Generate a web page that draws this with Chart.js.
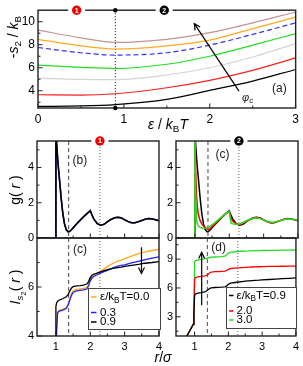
<!DOCTYPE html>
<html>
<head>
<meta charset="utf-8">
<script src="https://cdn.jsdelivr.net/npm/chart.js@4.4.1/dist/chart.umd.min.js"></script>
<style>
  body { margin: 0; background: #fff; }
  #fig { position: relative; width: 303px; height: 366px; overflow: hidden;
         font-family: "Liberation Sans", Arial, sans-serif; color: #000; }
  #fig canvas { position: absolute; left: 0; top: 0; pointer-events: none; }
  .ttl { position: absolute; white-space: nowrap; font-size: 14px; transform: translate(-50%, -50%); }
  .rot { transform: translate(-50%, -50%) rotate(-90deg); }
  .ttl sub { font-size: 70%; vertical-align: baseline; position: relative; top: 0.35em; }
  .ttl sub sub { font-size: 80%; }
</style>
</head>
<body>
<div id="fig">
  <canvas id="chartA" width="303" height="366"></canvas>
  <canvas id="chartB" width="303" height="366"></canvas>
  <canvas id="chartC" width="303" height="366"></canvas>
  <canvas id="chartC2" width="303" height="366"></canvas>
  <canvas id="chartD" width="303" height="366"></canvas>

  <div class="ttl rot" style="left:13px; top:37px;">-<i>s</i><sub>2</sub> / <i>k</i><sub>B</sub></div>
  <div class="ttl" style="left:168px; top:124px;"><i>ε</i> / <i>k</i><sub>B</sub><i>T</i></div>
  <div class="ttl rot" style="left:15px; top:190px;">g( <i>r</i> )</div>
  <div class="ttl rot" style="left:15px; top:287px;"><i>I</i><sub><i>s</i><sub>2</sub></sub>( <i>r</i> )</div>
  <div class="ttl" style="left:163px; top:357px;"><i>r</i>/<i>σ</i></div>
</div>

<script>
Chart.defaults.font.family = '"Liberation Sans", Arial, sans-serif';
Chart.defaults.color = '#000';

const FONT = '"Liberation Sans", Arial, sans-serif';
const W = 303, H = 366;

// ---------- panel (a): -s2/kB against eps/kBT, one curve per packing fraction
const epsA = [0, 0.5, 0.9, 1.5, 2, 2.5, 3];
const s2Black  = [2.64, 2.68, 2.80, 3.25, 4.03, 4.84, 5.85];
const s2Red    = [3.65, 3.62, 3.74, 4.26, 4.90, 5.77, 6.85];
const s2Gray   = [5.10, 4.98, 4.96, 5.37, 6.00, 6.93, 8.10];
const s2Green  = [6.22, 6.03, 5.93, 6.30, 7.00, 7.97, 8.96];
const s2Blue   = [7.76, 7.30, 7.10, 7.30, 7.97, 8.90, 9.90];
const s2Orange = [8.47, 7.90, 7.62, 7.90, 8.40, 9.40, 10.40];
const s2Brown  = [9.27, 8.60, 8.20, 8.47, 9.05, 9.90, 10.84];

// ---------- g(r) panels
const rG = [0.45, 0.995, 1.0, 1.02, 1.05, 1.08, 1.1, 1.15, 1.2, 1.25, 1.3, 1.35, 1.4, 1.45, 1.5,
            1.6, 1.7, 1.8, 1.9, 2.0, 2.05, 2.1, 2.2, 2.3, 2.4, 2.5, 2.6, 2.7, 2.8, 2.9, 3.0,
            3.1, 3.2, 3.3, 3.4, 3.5, 3.6, 3.7, 3.8, 3.9, 4.0];
const gEps00 = [0, 0, 6.5, 5.5, 4.6, 3.9, 3.45, 2.35, 1.45, 0.82, 0.5, 0.37, 0.37, 0.46, 0.57,
                0.79, 0.99, 1.19, 1.37, 1.54, 1.3, 1.09, 0.83, 0.72, 0.77, 0.92, 1.04, 1.14, 1.18, 1.15, 1.04,
                0.94, 0.87, 0.86, 0.92, 0.99, 1.06, 1.1, 1.08, 1.03, 0.98];
const gEps03 = [0, 0, 6.5, 5.45, 4.55, 3.85, 3.42, 2.32, 1.42, 0.8, 0.49, 0.36, 0.37, 0.46, 0.57,
                0.79, 0.99, 1.19, 1.37, 1.55, 1.3, 1.08, 0.83, 0.72, 0.77, 0.92, 1.04, 1.14, 1.18, 1.15, 1.04,
                0.94, 0.87, 0.86, 0.92, 0.99, 1.06, 1.1, 1.08, 1.03, 0.98];
const gEps09 = [0, 0, 6.5, 5.4, 4.5, 3.8, 3.4, 2.3, 1.4, 0.8, 0.48, 0.36, 0.38, 0.47, 0.58,
                0.8, 1.0, 1.2, 1.38, 1.55, 1.3, 1.08, 0.82, 0.72, 0.78, 0.93, 1.05, 1.15, 1.18, 1.14, 1.03,
                0.93, 0.87, 0.87, 0.93, 1.0, 1.07, 1.1, 1.08, 1.03, 0.98];
const gEps20 = [0, 0, 6.5, 4.0, 2.3, 1.6, 1.33, 1.0, 0.8, 0.68, 0.6, 0.52, 0.47, 0.55, 0.65,
                0.83, 1.02, 1.22, 1.38, 1.5, 1.15, 0.95, 0.8, 0.75, 0.82, 0.95, 1.05, 1.13, 1.16, 1.12, 1.02,
                0.93, 0.87, 0.88, 0.94, 1.0, 1.06, 1.09, 1.07, 1.03, 0.99];
const gEps30 = [0, 0, 6.5, 2.5, 1.0, 0.75, 0.68, 0.6, 0.57, 0.55, 0.55, 0.56, 0.6, 0.67, 0.75,
                0.9, 1.07, 1.23, 1.38, 1.5, 0.85, 0.8, 0.78, 0.8, 0.88, 0.98, 1.06, 1.12, 1.14, 1.1, 1.02,
                0.94, 0.89, 0.89, 0.94, 1.0, 1.05, 1.08, 1.07, 1.03, 1.0];

// ---------- I_s2(r) panels
const rI = [0.7, 0.77, 0.85, 0.92, 0.96, 0.98, 1.0, 1.02, 1.05, 1.1, 1.2, 1.3, 1.35, 1.4, 1.45, 1.5,
            1.6, 1.7, 1.8, 1.9, 1.95, 2.0, 2.05, 2.1, 2.2, 2.3, 2.4, 2.5, 2.6, 2.7, 2.8, 2.9,
            3.0, 3.2, 3.4, 3.6, 3.8, 4.0];
const iEps00 = [0.3, 0.9, 1.3, 1.7, 2.0, 2.2, 2.5, 4.3, 5.0, 5.06, 5.1, 5.15, 5.28, 5.5, 5.72, 5.85,
                5.9, 5.92, 5.94, 5.98, 6.1, 6.3, 6.42, 6.48, 6.56, 6.65, 6.74, 6.83, 6.92, 7.0, 7.06, 7.1,
                7.16, 7.26, 7.36, 7.43, 7.49, 7.53];
const iEps03 = [0.3, 0.9, 1.3, 1.7, 2.0, 2.2, 2.5, 4.2, 4.95, 5.02, 5.06, 5.12, 5.25, 5.45, 5.65, 5.78,
                5.84, 5.86, 5.88, 5.92, 6.05, 6.25, 6.37, 6.43, 6.5, 6.57, 6.63, 6.68, 6.74, 6.8, 6.85, 6.88,
                6.9, 6.98, 7.05, 7.12, 7.18, 7.23];
const iEps09 = [0.3, 1.0, 1.5, 1.95, 2.2, 3.5, 5.2, 5.35, 5.42, 5.47, 5.52, 5.6, 5.68, 5.82, 5.95, 6.02,
                6.05, 6.06, 6.08, 6.12, 6.22, 6.38, 6.48, 6.52, 6.57, 6.62, 6.67, 6.71, 6.74, 6.77, 6.79, 6.81,
                6.84, 6.88, 6.92, 6.97, 7.0, 7.04];
const iEps20 = [0.3, 1.0, 1.5, 1.95, 2.2, 2.6, 6.9, 7.05, 7.1, 7.15, 7.2, 7.25, 7.3, 7.4, 7.58, 7.66,
                7.7, 7.71, 7.73, 7.75, 7.82, 7.93, 8.0, 8.03, 8.06, 8.09, 8.12, 8.14, 8.16, 8.18, 8.2, 8.21,
                8.22, 8.24, 8.25, 8.26, 8.27, 8.28];
const iEps30 = [0.3, 1.0, 1.5, 1.95, 2.2, 2.8, 8.7, 8.82, 8.86, 8.9, 8.97, 9.03, 9.07, 9.12, 9.17, 9.2,
                9.22, 9.24, 9.27, 9.32, 9.45, 9.6, 9.7, 9.74, 9.77, 9.8, 9.82, 9.84, 9.85, 9.87, 9.88, 9.89,
                9.9, 9.91, 9.92, 9.93, 9.94, 9.95];

// ---------- axis ticks and legend texts
const epsTicks = [0, 1, 2, 3];
const epsMinor = [0.5, 1.5, 2.5];
const s2Ticks = [4, 6, 8, 10];
const s2Minor = [3, 5, 7, 9];
const rTicks = [1, 2, 3, 4];
const rMinor = [1.5, 2.5, 3.5];
const gTicks = [0, 2, 4];
const gMinor = [1, 3, 5];
const iTicksLeft = [4, 6];
const iMinorLeft = [5, 7];
const iTicksRight = [3, 6, 9];
const iMinorRight = [1.5, 4.5, 7.5, 10.5];
const legendLeft = ['0.0', '0.3', '0.9'];
const legendRight = ['0.9', '2.0', '3.0'];

const pts = (xs, ys) => xs.map((x, i) => ({ x: x, y: ys[i] }));

function line(xs, ys, color, extra) {
  return Object.assign({
    data: pts(xs, ys), borderColor: color, borderWidth: 1.3,
    pointRadius: 0, fill: false, tension: 0, clip: 0
  }, extra || {});
}

// text with subscripts: parts = [[text, style]], style '' | 'i' | 's' | 'si'
function rich(ctx, parts, x, y, size, align) {
  const items = parts.map(([t, st]) => ({
    t: t, st: st,
    f: (st.includes('i') ? 'italic ' : '') + (st.includes('s') ? size * 0.72 : size) + 'px ' + FONT
  }));
  let w = 0;
  items.forEach(p => { ctx.font = p.f; p.w = ctx.measureText(p.t).width; w += p.w; });
  let cx = align === 'center' ? x - w / 2 : x;
  ctx.textAlign = 'left';
  ctx.textBaseline = 'middle';
  items.forEach(p => {
    ctx.font = p.f;
    ctx.fillText(p.t, cx, y + (p.st.includes('s') ? size * 0.32 : 0));
    cx += p.w;
  });
}

function arrow(ctx, x1, y1, x2, y2) {
  const ang = Math.atan2(y2 - y1, x2 - x1), h = 6, w = 3;
  ctx.beginPath();
  ctx.moveTo(x1, y1);
  ctx.lineTo(x2, y2);
  ctx.stroke();
  ctx.beginPath();
  ctx.moveTo(x2 - h * Math.cos(ang) + w * Math.sin(ang), y2 - h * Math.sin(ang) - w * Math.cos(ang));
  ctx.lineTo(x2, y2);
  ctx.lineTo(x2 - h * Math.cos(ang) - w * Math.sin(ang), y2 - h * Math.sin(ang) + w * Math.cos(ang));
  ctx.stroke();
}

// frame, inward ticks, guide lines, markers and labels
function decor(cfg) {
  return {
    id: 'decor',
    beforeDatasetsDraw(chart) {
      const { ctx, chartArea: a, scales: { x } } = chart;
      ctx.save();
      (cfg.vlines || []).forEach(v => {
        const px = x.getPixelForValue(v.x);
        ctx.strokeStyle = v.color;
        ctx.lineWidth = v.width;
        ctx.setLineDash(v.dash);
        ctx.beginPath();
        ctx.moveTo(px, a.top);
        ctx.lineTo(px, a.bottom);
        ctx.stroke();
      });
      ctx.restore();
    },
    afterDatasetsDraw(chart) {
      const { ctx, chartArea: a, scales: { x, y } } = chart;
      ctx.save();
      ctx.setLineDash([]);
      ctx.strokeStyle = '#222';
      ctx.lineWidth = 1.4;
      ctx.strokeRect(a.left, a.top, a.width, a.height);

      // inward ticks on left and bottom
      ctx.lineWidth = 1;
      const tick = (px, len, horiz) => {
        ctx.beginPath();
        if (horiz) { ctx.moveTo(a.left, px); ctx.lineTo(a.left + len, px); }
        else { ctx.moveTo(px, a.bottom); ctx.lineTo(px, a.bottom - len); }
        ctx.stroke();
      };
      x.ticks.forEach(t => tick(x.getPixelForValue(t.value), 4.5, false));
      (cfg.minorX || []).forEach(v => tick(x.getPixelForValue(v), 2.5, false));
      y.ticks.forEach(t => tick(y.getPixelForValue(t.value), 4.5, true));
      (cfg.minorY || []).forEach(v => tick(y.getPixelForValue(v), 2.5, true));

      ctx.fillStyle = '#000';
      (cfg.dots || []).forEach(d => {
        ctx.beginPath();
        ctx.arc(x.getPixelForValue(d.x), d.top ? a.top : a.bottom, 2.2, 0, 2 * Math.PI);
        ctx.fill();
      });

      (cfg.markers || []).forEach(m => {
        const px = x.getPixelForValue(m.x), py = a.top;
        ctx.fillStyle = '#fff';
        ctx.fillRect(px - 8.5, py - 2, 17, 4);
        ctx.beginPath();
        ctx.arc(px, py, 4.7, 0, 2 * Math.PI);
        ctx.fillStyle = m.color;
        ctx.fill();
        ctx.fillStyle = '#fff';
        ctx.font = 'bold 7px ' + FONT;
        ctx.textAlign = 'center';
        ctx.textBaseline = 'middle';
        ctx.fillText(m.n, px, py + 0.5);
      });

      ctx.strokeStyle = '#000';
      ctx.lineWidth = 1.2;
      (cfg.arrows || []).forEach(r => {
        arrow(ctx, x.getPixelForValue(r.x1), y.getPixelForValue(r.y1),
                   x.getPixelForValue(r.x2), y.getPixelForValue(r.y2));
      });

      ctx.fillStyle = '#222';
      (cfg.texts || []).forEach(t => {
        rich(ctx, t.parts, x.getPixelForValue(t.x), y.getPixelForValue(t.y), t.size, 'center');
      });

      const lg = cfg.legend;
      if (lg) {
        const bx = lg.fromRight ? a.right - lg.dx - lg.w : a.left + lg.dx, by = a.top + lg.dy;
        ctx.fillStyle = '#fff';
        ctx.fillRect(bx, by, lg.w, lg.h);
        ctx.strokeStyle = '#444';
        ctx.lineWidth = 1;
        ctx.strokeRect(bx + 0.5, by + 0.5, lg.w, lg.h);
        lg.rows.forEach((row, i) => {
          const ry = by + lg.rowY[i];
          ctx.strokeStyle = row.color;
          ctx.lineWidth = 1.5;
          ctx.beginPath();
          ctx.moveTo(bx + lg.lineX[0], ry);
          ctx.lineTo(bx + lg.lineX[1], ry);
          ctx.stroke();
          ctx.fillStyle = '#000';
          rich(ctx, row.parts, bx + lg.textX, ry, lg.size, 'left');
        });
      }
      ctx.restore();
    }
  };
}

function panel(id, box, xr, yr, xTicks, yTicks, showX, fontSize, datasets, deco) {
  const [L, T, R, B] = box, yw = 30, xh = showX ? 16 : 0;
  return new Chart(document.getElementById(id), {
    type: 'line',
    data: { datasets: datasets },
    options: {
      responsive: false,
      animation: false,
      events: [],
      layout: { padding: { left: L - yw, top: T, right: W - R, bottom: H - B - xh } },
      plugins: { legend: { display: false }, tooltip: { enabled: false } },
      scales: {
        x: {
          type: 'linear', min: xr[0], max: xr[1],
          grid: { display: false, drawTicks: false }, border: { display: false },
          ticks: { display: showX, padding: 4, font: { size: fontSize }, color: '#000' },
          afterBuildTicks: ax => { ax.ticks = xTicks.map(v => ({ value: v })); },
          afterFit: ax => { ax.height = xh; }
        },
        y: {
          type: 'linear', min: yr[0], max: yr[1],
          grid: { display: false, drawTicks: false }, border: { display: false },
          ticks: { padding: 3, font: { size: fontSize }, color: '#000' },
          afterBuildTicks: ax => { ax.ticks = yTicks.map(v => ({ value: v })); },
          afterFit: ax => { ax.width = yw; }
        }
      }
    },
    plugins: [decor(deco)]
  });
}

const smooth = { cubicInterpolationMode: 'monotone', borderWidth: 1.2 };
const gSub = [['ε/k', ''], ['B', 's'], ['T=', '']];

// (a)
panel('chartA', [38, 9, 297, 108], [0, 3], [2.5, 11], epsTicks, s2Ticks, true, 12, [
  line(epsA, s2Brown, '#c09494', smooth),
  line(epsA, s2Orange, '#ffaa1e', smooth),
  line(epsA, s2Blue, '#3030ff', Object.assign({ borderDash: [5, 3] }, smooth)),
  line(epsA, s2Green, '#22dd22', smooth),
  line(epsA, s2Gray, '#d4d4d4', smooth),
  line(epsA, s2Red, '#ff2020', smooth),
  line(epsA, s2Black, '#000000', smooth)
], {
  minorX: epsMinor, minorY: s2Minor,
  vlines: [{ x: 0.9, color: '#000', width: 1, dash: [1, 2] }],
  dots: [{ x: 0.9, top: true }, { x: 0.9, top: false }],
  markers: [{ x: 0.45, n: '1', color: '#ee0000' }, { x: 1.47, n: '2', color: '#000' }],
  arrows: [{ x1: 2.34, y1: 3.97, x2: 1.82, y2: 9.83 }],
  texts: [
    { x: 2.44, y: 3.4, size: 11, parts: [['φ', 'i'], ['c', 's']] },
    { x: 2.81, y: 4.15, size: 12, parts: [['(a)', '']] }
  ]
});

// (b) g(r), eps = 0.0, 0.3, 0.9
panel('chartB', [37, 141, 159, 238], [0.45, 4.0], [0, 5.5], rTicks, gTicks, false, 11, [
  line(rG, gEps09, '#000000', { borderWidth: 1.5 }),
  line(rG, gEps03, '#2020ff', { borderWidth: 1.5 }),
  line(rG, gEps00, '#ffaa1e', { borderWidth: 1.5 })
], {
  minorX: rMinor, minorY: gMinor,
  vlines: [{ x: 1.37, color: '#666', width: 1.2, dash: [4, 3] },
           { x: 2.28, color: '#333', width: 0.8, dash: [1, 2] }],
  markers: [{ x: 2.28, n: '1', color: '#ee0000' }],
  texts: [{ x: 1.7, y: 4.4, size: 12, parts: [['(b)', '']] }]
});

// (c) I_s2(r), eps = 0.0, 0.3, 0.9
panel('chartC', [37, 238, 159, 336], [0.45, 4.0], [4, 8], rTicks, iTicksLeft, true, 11, [
  line(rI, iEps09, '#000000'),
  line(rI, iEps03, '#2020ff'),
  line(rI, iEps00, '#ffaa1e')
], {
  minorX: rMinor, minorY: iMinorLeft,
  vlines: [{ x: 1.37, color: '#666', width: 1.2, dash: [4, 3] },
           { x: 2.28, color: '#333', width: 0.8, dash: [1, 2] }],
  arrows: [{ x1: 3.49, y1: 7.62, x2: 3.49, y2: 6.55 }],
  texts: [{ x: 1.7, y: 7.52, size: 12, parts: [['(c)', '']] }],
  legend: {
    fromRight: true, dx: -1, dy: 50, w: 72, h: 41, size: 11.5,
    lineX: [3, 8.5], textX: 12, rowY: [9, 24.5, 34],
    rows: [
      { color: '#ffaa1e', parts: gSub.concat([[legendLeft[0], '']]) },
      { color: '#2020ff', parts: [[legendLeft[1], '']] },
      { color: '#000000', parts: [[legendLeft[2], '']] }
    ]
  }
});

// (c) right: g(r), eps = 0.9, 2.0, 3.0
panel('chartC2', [176, 141, 298, 238], [0.45, 4.0], [0, 5.5], rTicks, gTicks, false, 11, [
  line(rG, gEps30, '#22dd22', { borderWidth: 1.5 }),
  line(rG, gEps20, '#ff0000', { borderWidth: 1.5 }),
  line(rG, gEps09, '#000000', { borderWidth: 1.5 })
], {
  minorX: rMinor, minorY: gMinor,
  vlines: [{ x: 1.38, color: '#666', width: 1.2, dash: [4, 3] },
           { x: 2.28, color: '#333', width: 0.8, dash: [1, 2] }],
  markers: [{ x: 2.28, n: '2', color: '#000' }],
  texts: [{ x: 1.8, y: 4.75, size: 12, parts: [['(c)', '']] }]
});

// (d) I_s2(r), eps = 0.9, 2.0, 3.0
panel('chartD', [176, 238, 298, 336], [0.45, 4.0], [1, 11.2], rTicks, iTicksRight, true, 11, [
  line(rI, iEps09, '#000000'),
  line(rI, iEps20, '#ff0000'),
  line(rI, iEps30, '#22dd22')
], {
  minorX: rMinor, minorY: iMinorRight,
  vlines: [{ x: 1.38, color: '#666', width: 1.2, dash: [4, 3] },
           { x: 2.28, color: '#333', width: 0.8, dash: [1, 2] }],
  arrows: [{ x1: 1.21, y1: 4.2, x2: 1.21, y2: 9.7 }],
  texts: [{ x: 1.71, y: 10.17, size: 12, parts: [['(d)', '']] }],
  legend: {
    fromRight: false, dx: 50, dy: 49, w: 70, h: 41, size: 11.5,
    lineX: [3, 7.5], textX: 10.5, rowY: [8.5, 24, 33],
    rows: [
      { color: '#000000', parts: gSub.concat([[legendRight[0], '']]) },
      { color: '#ff0000', parts: [[legendRight[1], '']] },
      { color: '#22dd22', parts: [[legendRight[2], '']] }
    ]
  }
});
</script>
</body>
</html>
